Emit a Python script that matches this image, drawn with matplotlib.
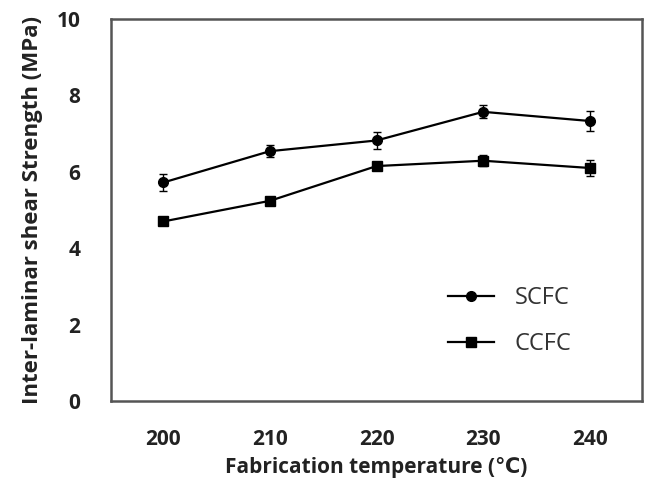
import matplotlib
matplotlib.use("Agg")
import matplotlib.pyplot as plt
from matplotlib.lines import Line2D
import numpy as np

temps = ["200", "210", "220", "230", "240"]
scfc = [5.72, 6.54, 6.82, 7.57, 7.33]
scfc_err = [0.23, 0.15, 0.23, 0.17, 0.27]
ccfc = [4.70, 5.24, 6.15, 6.29, 6.10]
ccfc_err = [0.06, 0.06, 0.10, 0.15, 0.20]
yticks = [0, 2, 4, 6, 8, 10]

plt.rcParams['font.family'] = ['Open Sans', 'DejaVu Sans']

fig = plt.figure(figsize=(6.47, 4.8), dpi=100)
ax = fig.add_axes([0.1716, 0.1646, 0.8207, 0.7958])
x = np.arange(len(temps))

ax.errorbar(x, scfc, yerr=scfc_err, color='black', marker='o', markersize=7,
            linewidth=1.6, capsize=3, elinewidth=1, capthick=1)
ax.errorbar(x, ccfc, yerr=ccfc_err, color='black', marker='s', markersize=7,
            linewidth=1.6, capsize=3, elinewidth=1, capthick=1)

ax.set_xlim(-0.49, 4.49)
ax.set_ylim(0, 10)
ax.set_xticks(x)
ax.set_xticklabels(temps)
ax.set_yticks(yticks)
ax.tick_params(length=0, labelsize=15)
for lab in ax.get_xticklabels() + ax.get_yticklabels():
    lab.set_fontweight('bold')
    lab.set_color('#222222')
ax.tick_params(axis='x', pad=20)
ax.tick_params(axis='y', pad=22)

for s in ax.spines.values():
    s.set_color('#555555')
    s.set_linewidth(1.8)

ax.set_xlabel('Fabrication temperature (℃)', fontsize=15, fontweight='bold', color='#222222', labelpad=5)
ax.set_ylabel('Inter-laminar shear Strength (MPa)', fontsize=16, fontweight='bold', color='#222222', labelpad=10)

handles = [Line2D([], [], color='black', marker='o', markersize=7, linewidth=1.6),
           Line2D([], [], color='black', marker='s', markersize=7, linewidth=1.6)]
leg = ax.legend(handles, ['SCFC', 'CCFC'], loc='upper left', bbox_to_anchor=(0.635, 0.30), frameon=False,
                fontsize=17, handlelength=1.95, handletextpad=0.85, labelspacing=0.92,
                borderaxespad=0, borderpad=0)
for t in leg.get_texts():
    t.set_color('#333333')

fig.savefig('out.png', dpi=100)
